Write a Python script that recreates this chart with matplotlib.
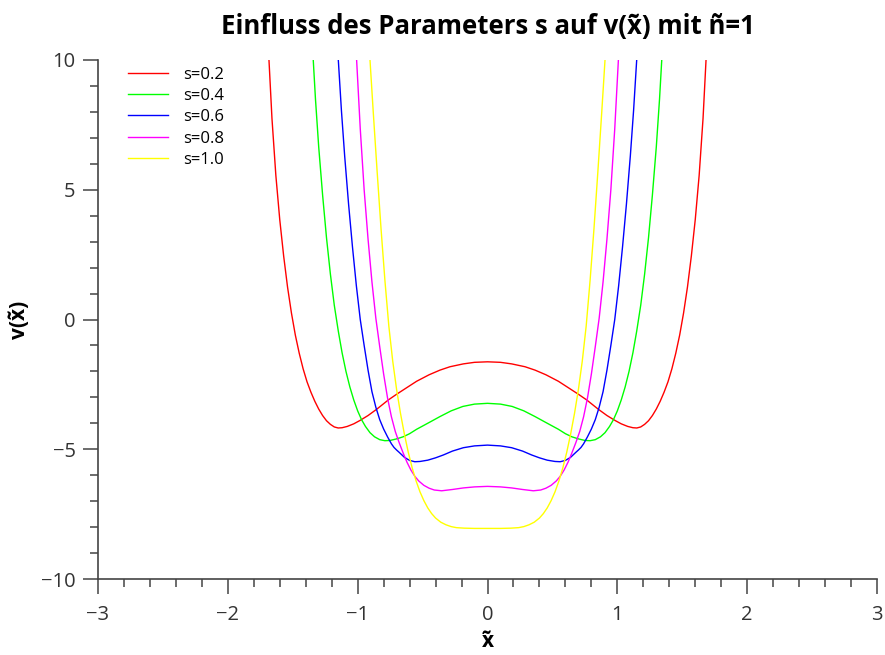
import matplotlib
matplotlib.use('Agg')
import matplotlib.pyplot as plt
from matplotlib.ticker import MultipleLocator
import numpy as np

plt.rcParams['font.family'] = ['Open Sans', 'DejaVu Sans']

# values, right half (x >= 0); curves are symmetric
s_labels = ['s=0.2', 's=0.4', 's=0.6', 's=0.8', 's=1.0']
colors = ['#ff0000', '#00ff00', '#0000ff', '#ff00ff', '#ffff00']

x_s02 = [0.0, 0.10, 0.186, 0.289, 0.366, 0.45, 0.546, 0.62, 0.70, 0.764, 0.854, 0.92, 0.982,
         1.03, 1.08, 1.12, 1.15, 1.18, 1.21, 1.24, 1.27, 1.30, 1.33, 1.36, 1.39, 1.42, 1.45,
         1.48, 1.51, 1.54, 1.57, 1.60, 1.63, 1.66, 1.683]
v_s02 = [-1.63, -1.65, -1.71, -1.82, -1.95, -2.13, -2.38, -2.62, -2.88, -3.10, -3.46, -3.70, -3.89,
         -4.02, -4.12, -4.17, -4.18, -4.14, -4.04, -3.90, -3.70, -3.45, -3.15, -2.80, -2.40, -1.90, -1.30,
         -0.60, 0.25, 1.25, 2.45, 3.85, 5.55, 7.75, 10.0]

x_s04 = [0.0, 0.10, 0.19, 0.28, 0.366, 0.45, 0.546, 0.60, 0.65, 0.70, 0.75, 0.79, 0.83, 0.87,
         0.905, 0.94, 0.97, 1.00, 1.03, 1.06, 1.09, 1.12, 1.149, 1.18, 1.21, 1.24, 1.27, 1.30,
         1.325, 1.342]
v_s04 = [-3.23, -3.26, -3.35, -3.52, -3.74, -3.97, -4.23, -4.40, -4.52, -4.60, -4.66, -4.67, -4.63, -4.52,
         -4.36, -4.12, -3.86, -3.52, -3.10, -2.60, -2.00, -1.28, -0.45, 0.55, 1.75, 3.15, 4.80, 6.65,
         8.50, 10.0]

x_s06 = [0.0, 0.10, 0.186, 0.27, 0.34, 0.40, 0.46, 0.52, 0.56, 0.60, 0.64, 0.68, 0.70, 0.72,
         0.74, 0.77, 0.80, 0.83, 0.86, 0.89, 0.92, 0.95, 0.98, 1.01, 1.04, 1.07, 1.10, 1.125, 1.149]
v_s06 = [-4.84, -4.87, -4.94, -5.07, -5.22, -5.33, -5.42, -5.47, -5.48, -5.43, -5.31, -5.12, -5.03, -4.93,
         -4.79, -4.52, -4.22, -3.86, -3.38, -2.78, -1.95, -1.00, 0.00, 1.30, 2.80, 4.45, 6.30, 8.05, 10.0]

x_s08 = [0.0, 0.10, 0.186, 0.27, 0.353, 0.41, 0.45, 0.49, 0.53, 0.56, 0.59, 0.62, 0.65, 0.68,
         0.71, 0.74, 0.77, 0.80, 0.83, 0.86, 0.89, 0.92, 0.95, 0.98, 1.008]
v_s08 = [-6.43, -6.45, -6.49, -6.55, -6.60, -6.57, -6.50, -6.39, -6.22, -6.04, -5.80, -5.50, -5.14, -4.75,
         -4.32, -3.75, -3.02, -2.10, -1.05, 0.05, 1.45, 3.10, 5.00, 7.35, 10.0]

x_s10 = [0.0, 0.10, 0.18, 0.24, 0.28, 0.32, 0.36, 0.40, 0.43, 0.46, 0.49, 0.52, 0.55, 0.58,
         0.61, 0.64, 0.67, 0.70, 0.73, 0.76, 0.79, 0.82, 0.85, 0.88, 0.905]
v_s10 = [-8.05, -8.05, -8.04, -8.02, -7.98, -7.91, -7.81, -7.65, -7.48, -7.26, -6.98, -6.64, -6.22, -5.72,
         -5.12, -4.42, -3.62, -2.70, -1.60, -0.25, 1.50, 3.50, 5.70, 8.00, 10.0]

x_half = [x_s02, x_s04, x_s06, x_s08, x_s10]
v_half = [v_s02, v_s04, v_s06, v_s08, v_s10]

fig = plt.figure(figsize=(8.85, 6.55), dpi=100)
ax = fig.add_axes([0.1107, 0.116, 0.8803, 0.7924])

for xs, vs, col, lab in zip(x_half, v_half, colors, s_labels):
    xs = np.asarray(xs)
    vs = np.asarray(vs)
    x_full = np.concatenate([-xs[::-1], xs[1:]])
    v_full = np.concatenate([vs[::-1], vs[1:]])
    ax.plot(x_full, v_full, color=col, lw=1.0, label=lab)

ax.set_xlim(-3, 3)
ax.set_ylim(-10, 10)
ax.xaxis.set_major_locator(MultipleLocator(1))
ax.xaxis.set_minor_locator(MultipleLocator(0.2))
ax.yaxis.set_major_locator(MultipleLocator(5))
ax.yaxis.set_minor_locator(MultipleLocator(1))

for side in ['top', 'right']:
    ax.spines[side].set_visible(False)
for side in ['left', 'bottom']:
    ax.spines[side].set_color('#444444')
    ax.spines[side].set_linewidth(1.2)
ax.tick_params(which='major', length=11, width=1.1, color='#444444', labelsize=14.5,
               labelcolor='#333333', pad=5)
ax.tick_params(which='minor', length=6, width=1.1, color='#444444')
ax.tick_params(axis='x', pad=8)

ax.set_xlabel('x\u0303', fontsize=15, fontweight='bold', labelpad=4)
ax.set_ylabel('v(x\u0303)', fontsize=15, fontweight='bold', labelpad=8)
ax.set_title('Einfluss des Parameters s auf v(x\u0303) mit \u00f1=1', fontsize=18.5,
             fontweight='bold', pad=19)

ax.legend(loc='upper left', frameon=False, fontsize=12, handlelength=2.4,
          handletextpad=0.9, labelspacing=0.32, borderaxespad=0.0,
          bbox_to_anchor=(0.030, 1.0))

fig.savefig('out.png', dpi=100)
